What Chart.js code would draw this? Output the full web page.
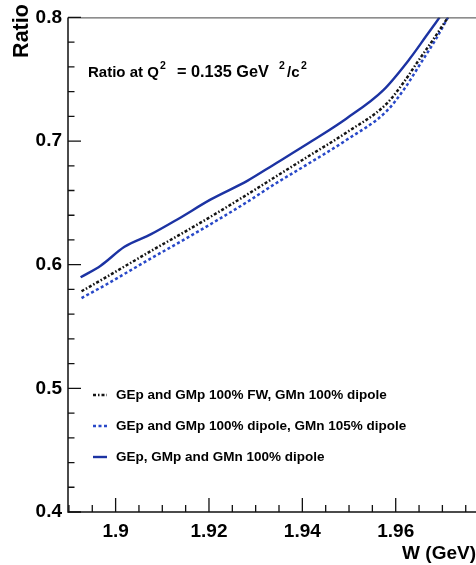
<!DOCTYPE html>
<html>
<head>
<meta charset="utf-8">
<script src="https://cdn.jsdelivr.net/npm/chart.js@4/dist/chart.umd.min.js"></script>
<style>
  html, body { margin: 0; padding: 0; background: #ffffff; }
  #wrap { width: 476px; height: 565px; position: relative; }
</style>
</head>
<body>
<div id="wrap"><canvas id="c" width="476" height="565"></canvas></div>
<script>
// Invariant mass W (GeV) and ratio for each form-factor parametrisation
const wFW = [1.8927, 1.8980, 1.9030, 1.9080, 1.9150, 1.9220, 1.9285, 1.9340, 1.9410, 1.9495, 1.9580, 1.9620, 1.9645, 1.9681, 1.9712];
const ratioFW = [0.5785, 0.5900, 0.6010, 0.6120, 0.6270, 0.6425, 0.6575, 0.6705, 0.6870, 0.7070, 0.7300, 0.7490, 0.7630, 0.7825, 0.8000];

const wGMn105 = [1.8927, 1.8980, 1.9030, 1.9080, 1.9150, 1.9220, 1.9285, 1.9340, 1.9410, 1.9495, 1.9580, 1.9620, 1.9652, 1.9687, 1.9712];
const ratioGMn105 = [0.5730, 0.5840, 0.5950, 0.6060, 0.6210, 0.6365, 0.6515, 0.6650, 0.6810, 0.7010, 0.7240, 0.7430, 0.7620, 0.7830, 0.8000];

const wDipole = [1.8925, 1.8968, 1.9019, 1.9076, 1.9133, 1.9204, 1.9283, 1.9337, 1.9423, 1.9494, 1.9573, 1.9630, 1.9666, 1.9694];
const ratioDipole = [0.5898, 0.5992, 0.6145, 0.6247, 0.6368, 0.6528, 0.6680, 0.6805, 0.7006, 0.7181, 0.7410, 0.7665, 0.7853, 0.8000];

const seriesLabels = [
  'GEp and GMp 100% FW, GMn 100% dipole',
  'GEp and GMp 100% dipole, GMn 105% dipole',
  'GEp, GMp and GMn 100% dipole'
];

// Axis ticks
const xMajorTicks = [1.9, 1.92, 1.94, 1.96, 1.98];
const xMinorTicks = [1.89, 1.895, 1.905, 1.91, 1.915, 1.925, 1.93, 1.935, 1.945, 1.95, 1.955, 1.965, 1.97, 1.975];
const yMajorTicks = [0.4, 0.5, 0.6, 0.7, 0.8];
const yMinorTicks = [0.42, 0.44, 0.46, 0.48, 0.52, 0.54, 0.56, 0.58, 0.62, 0.64, 0.66, 0.68, 0.72, 0.74, 0.76, 0.78];

// Q^2 annotation pieces (superscripts flagged)
const annotationParts = [
  { text: 'Ratio at Q', sup: false },
  { text: '2', sup: true },
  { text: '= 0.135 GeV', sup: false },
  { text: '2', sup: true },
  { text: '/c', sup: false },
  { text: '2', sup: true }
];

const FONT = '"Liberation Sans", Arial, Helvetica, sans-serif';

function pts(xs, ys) { return xs.map((x, i) => ({ x: x, y: ys[i] })); }

const frame = {
  id: 'frame',
  afterDraw(chart) {
    const ctx = chart.ctx;
    const xs = chart.scales.x, ys = chart.scales.y;
    const a = chart.chartArea;
    ctx.save();

    // top frame line
    ctx.strokeStyle = '#444';
    ctx.lineWidth = 1;
    ctx.beginPath();
    ctx.moveTo(a.left, a.top + 0.5);
    ctx.lineTo(chart.width, a.top + 0.5);
    ctx.stroke();

    // left and bottom axes
    ctx.strokeStyle = '#111';
    ctx.lineWidth = 1.5;
    ctx.beginPath();
    ctx.moveTo(a.left, a.top);
    ctx.lineTo(a.left, a.bottom);
    ctx.lineTo(chart.width, a.bottom);
    ctx.stroke();

    // tick marks pointing inward
    ctx.lineWidth = 1.3;
    ctx.beginPath();
    yMajorTicks.forEach(v => { const p = ys.getPixelForValue(v); ctx.moveTo(a.left, p); ctx.lineTo(a.left + 13, p); });
    yMinorTicks.forEach(v => { const p = ys.getPixelForValue(v); ctx.moveTo(a.left, p); ctx.lineTo(a.left + 6.5, p); });
    xMajorTicks.forEach(v => { const p = xs.getPixelForValue(v); ctx.moveTo(p, a.bottom); ctx.lineTo(p, a.bottom - 14); });
    xMinorTicks.forEach(v => { const p = xs.getPixelForValue(v); ctx.moveTo(p, a.bottom); ctx.lineTo(p, a.bottom - 7); });
    ctx.stroke();

    // vertical axis title
    ctx.fillStyle = '#000';
    ctx.save();
    ctx.translate(22, 31);
    ctx.rotate(-Math.PI / 2);
    ctx.font = 'bold 21.5px ' + FONT;
    ctx.textAlign = 'center';
    ctx.textBaseline = 'middle';
    ctx.fillText('Ratio', 0, 0);
    ctx.restore();

    // Q^2 annotation, each piece placed at its own x
    const partX = [88, 160, 177, 279, 287, 301];
    const base = 76.5;
    ctx.textBaseline = 'alphabetic';
    ctx.textAlign = 'left';
    annotationParts.forEach((part, i) => {
      ctx.font = part.sup ? 'bold 10.5px ' + FONT : (i === 2 ? 'bold 16.3px ' : 'bold 15px ') + FONT;
      ctx.fillText(part.text, partX[i], part.sup ? base - 7.5 : base);
    });

    // legend
    const rows = [395, 426, 457];
    chart.data.datasets.forEach((ds, i) => {
      const y = rows[i];
      ctx.strokeStyle = ds.borderColor;
      ctx.lineWidth = ds.borderWidth;
      ctx.setLineDash(ds.borderDash || []);
      ctx.beginPath();
      ctx.moveTo(93, y);
      ctx.lineTo(107, y);
      ctx.stroke();
      ctx.setLineDash([]);
      ctx.fillStyle = '#000';
      ctx.font = 'bold 13.5px ' + FONT;
      ctx.textBaseline = 'middle';
      ctx.fillText(ds.label, 116, y + 0.5);
    });

    ctx.restore();
  }
};

new Chart(document.getElementById('c'), {
  type: 'scatter',
  data: {
    datasets: [
      {
        label: seriesLabels[0],
        data: pts(wFW, ratioFW),
        showLine: true,
        borderColor: '#141414',
        borderWidth: 2.5,
        borderDash: [3, 2, 1.5, 2],
        pointRadius: 0,
        cubicInterpolationMode: 'monotone'
      },
      {
        label: seriesLabels[1],
        data: pts(wGMn105, ratioGMn105),
        showLine: true,
        borderColor: '#2848c8',
        borderWidth: 2.5,
        borderDash: [3, 2.5],
        pointRadius: 0,
        cubicInterpolationMode: 'monotone'
      },
      {
        label: seriesLabels[2],
        data: pts(wDipole, ratioDipole),
        showLine: true,
        borderColor: '#1c33a3',
        borderWidth: 2.4,
        pointRadius: 0,
        cubicInterpolationMode: 'monotone'
      }
    ]
  },
  options: {
    responsive: false,
    animation: false,
    devicePixelRatio: 1,
    layout: { padding: { top: 15, right: 0, bottom: 0, left: 0 } },
    plugins: { legend: { display: false }, tooltip: { enabled: false } },
    scales: {
      x: {
        type: 'linear',
        min: 1.8898,
        max: 1.9772,
        border: { display: false },
        grid: { display: false, drawTicks: false },
        afterBuildTicks: s => { s.ticks = xMajorTicks.filter(v => v <= s.max).map(v => ({ value: v })); },
        afterFit: s => { s.height = 53; },
        ticks: {
          autoSkip: false,
          maxRotation: 0,
          padding: 8,
          color: '#000',
          font: { family: FONT, size: 19, weight: 'bold' },
          callback: v => String(+v.toFixed(2))
        },
        title: {
          display: true,
          text: 'W (GeV)',
          align: 'end',
          color: '#000',
          font: { family: FONT, size: 19, weight: 'bold' },
          padding: { top: 0, bottom: 0 }
        }
      },
      y: {
        type: 'linear',
        min: 0.4,
        max: 0.8,
        border: { display: false },
        grid: { display: false, drawTicks: false },
        afterBuildTicks: s => { s.ticks = yMajorTicks.map(v => ({ value: v })); },
        afterFit: s => { s.width = 68; },
        ticks: {
          autoSkip: false,
          padding: 6,
          color: '#000',
          font: { family: FONT, size: 19, weight: 'bold' },
          callback: v => v.toFixed(1)
        }
      }
    }
  },
  plugins: [frame]
});
</script>
</body>
</html>
